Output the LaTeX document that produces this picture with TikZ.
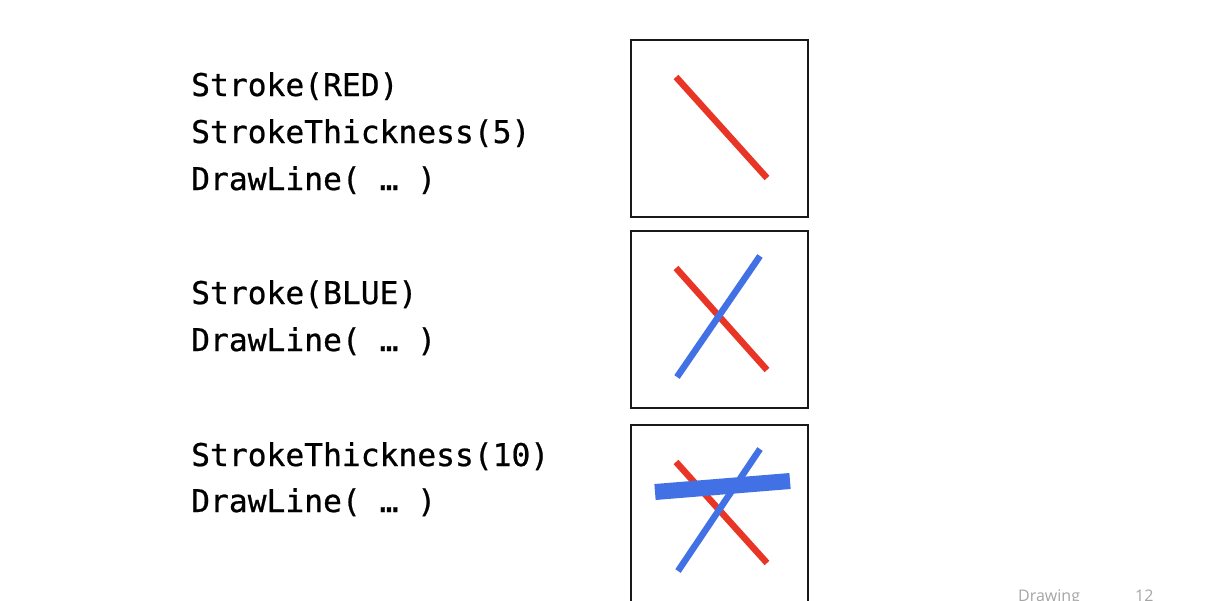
\documentclass[tikz,border=0pt]{standalone}
\usepackage{fontspec}
\setsansfont{Open Sans}
\newfontfamily\codefont[FakeBold=0.7]{DejaVu Sans Mono}
\usetikzlibrary{positioning,calc}
\definecolor{strokered}{RGB}{233,53,38}
\definecolor{strokeblue}{RGB}{65,113,228}
\definecolor{footgray}{RGB}{165,165,165}

\begin{document}
\begin{tikzpicture}[
  x=1pt, y=-1pt,
  code/.style   ={anchor=base west, inner sep=0pt, font=\codefont\fontsize{31.3}{37}\selectfont},
  canvas/.style ={draw=black!90, line width=1.1pt},
  redline/.style={strokered, line width=6.5pt},
  blueline/.style={strokeblue, line width=6.5pt},
  fatline/.style={strokeblue, line width=16pt},
  foot/.style   ={anchor=base west, inner sep=0pt, font=\sffamily\fontsize{16}{18}\selectfont, text=footgray}
]

\useasboundingbox (0,0) rectangle (1222,600);

% ---- Code, first call group ------------------------------------------------
\node[code] (red)   at (191,96)  {Stroke(RED)};
\node[code] (thick) at (191,143) {StrokeThickness(5)};
\node[code] (line1) at (191,190) {DrawLine( … )};

% ---- Code, second call group -----------------------------------------------
\node[code] (blue)  at (191,304) {Stroke(BLUE)};
\node[code] (line2) at (191,351) {DrawLine( … )};

% ---- Code, third call group ------------------------------------------------
\node[code] (fat)   at (191,466) {StrokeThickness(10)};
\node[code] (line3) at (191,512) {DrawLine( … )};

% ---- Canvas 1: red only ----------------------------------------------------
\begin{scope}[shift={(631,40)}]
  \draw[canvas] (0,0) rectangle (177,177);
  \draw[redline] (45,37) -- (136,138);
\end{scope}

% ---- Canvas 2: red + thin blue ---------------------------------------------
\begin{scope}[shift={(631,231)}]
  \draw[canvas] (0,0) rectangle (177,177);
  \draw[redline] (45,37) -- (136,139);
  \draw[blueline] (129,25) -- (46,146);
\end{scope}

% ---- Canvas 3: red + thin blue + thick blue --------------------------------
\begin{scope}[shift={(631,425)}]
  \draw[canvas] (0,0) rectangle (177,177);
  \draw[redline] (45,37) -- (136,138);
  \draw[blueline] (129,24) -- (47,146);
  \draw[fatline] (24,67) -- (159,56);
\end{scope}

% ---- Footer ------------------------------------------------------------------
\node[foot] (title) at (1018,601.5) {Drawing};
\node[foot] (page)  at (1135,601.5) {12};

\end{tikzpicture}
\end{document}
